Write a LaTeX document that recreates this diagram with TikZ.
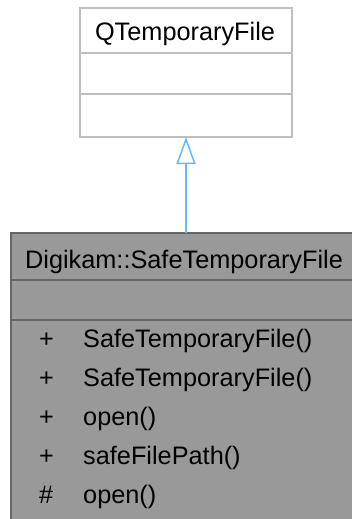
\documentclass[tikz,border=0pt]{standalone}
\usepackage{fontspec}
\setmainfont{Liberation Sans}
\usetikzlibrary{arrows.meta}
\definecolor{topborder}{HTML}{BFBFBF}
\definecolor{botfill}{HTML}{999999}
\definecolor{botborder}{HTML}{666666}
\definecolor{arrowblue}{HTML}{63B8FF}
\begin{document}
\begin{tikzpicture}[x=1pt,y=-1pt,
  lbl/.style={inner sep=0pt,anchor=base west,font=\fontsize{25.3}{28}\selectfont},
  ttl/.style={inner sep=0pt,anchor=base,font=\fontsize{25.3}{28}\selectfont},
  inherit/.style={draw=arrowblue,line width=1.5pt,-{Triangle[open,length=27pt,width=19pt,line width=1.5pt]}}]
\useasboundingbox (0,0) rectangle (352,519);
\clip (0,0) rectangle (352,519);
% base class
\draw[topborder,line width=1.5pt,fill=white] (80,8) rectangle (292,137);
\draw[topborder,line width=1.5pt] (80,53) -- (292,53) (80,94) -- (292,94);
\node[ttl] (qtf) at (185,41) {QTemporaryFile};
\coordinate (qtfb) at (186,137);
% derived class
\draw[botborder,line width=1.5pt,fill=botfill] (11,233) rectangle (360,530);
\draw[botborder,line width=1.5pt] (11,280) -- (360,280) (11,320) -- (360,320);
\node[ttl] (stf) at (184,268) {Digikam::SafeTemporaryFile};
\coordinate (stft) at (186,233);
\node[lbl] (p1) at (39,347) {+};
\node[lbl] (m1) at (83,347) {SafeTemporaryFile()};
\node[lbl] (p2) at (39,386) {+};
\node[lbl] (m2) at (83,386) {SafeTemporaryFile()};
\node[lbl] (p3) at (39,425) {+};
\node[lbl] (m3) at (83,425) {open()};
\node[lbl] (p4) at (39,464) {+};
\node[lbl] (m4) at (83,464) {safeFilePath()};
\node[lbl] (p5) at (39,503) {\#};
\node[lbl] (m5) at (83,503) {open()};
\draw[inherit] (stft) -- (qtfb);
\end{tikzpicture}
\end{document}
